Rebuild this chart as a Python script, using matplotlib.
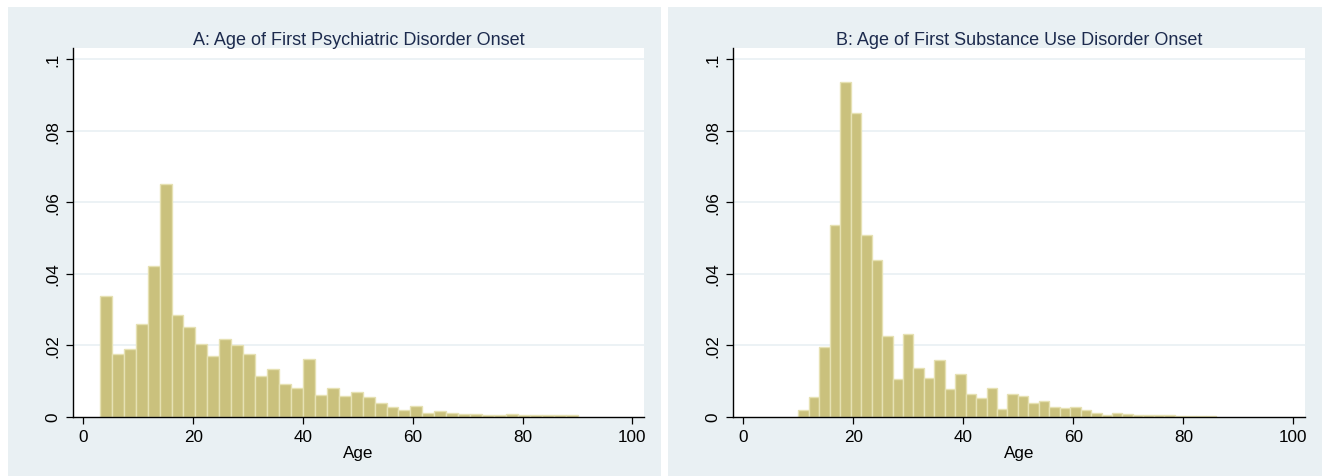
"""Age-of-onset histograms (density) for first psychiatric and first
substance use disorder, Stata s2color look."""
import numpy as np
import matplotlib
matplotlib.use("Agg")
import matplotlib.pyplot as plt
from matplotlib.patches import Rectangle

plt.rcParams["font.family"] = ["Liberation Sans", "DejaVu Sans"]

# density per bin, 40 bins each
psych_range = (3, 90)
psych_density = [
    0.0338, 0.0176, 0.0189, 0.0259, 0.0420, 0.0650, 0.0285, 0.0250, 0.0204, 0.0169,
    0.0218, 0.0200, 0.0175, 0.0114, 0.0134, 0.0091, 0.0081, 0.0162, 0.0060, 0.0080,
    0.0057, 0.0068, 0.0055, 0.0039, 0.0026, 0.0018, 0.0029, 0.0011, 0.0016, 0.0009,
    0.0007, 0.0006, 0.0004, 0.0004, 0.0007, 0.0005, 0.0003, 0.0003, 0.0003, 0.0004,
]
sud_range = (10, 86)
sud_density = [
    0.0017, 0.0054, 0.0194, 0.0536, 0.0937, 0.0848, 0.0509, 0.0437, 0.0225, 0.0105,
    0.0230, 0.0137, 0.0107, 0.0157, 0.0076, 0.0119, 0.0064, 0.0051, 0.0079, 0.0021,
    0.0064, 0.0056, 0.0038, 0.0044, 0.0026, 0.0023, 0.0026, 0.0019, 0.0011, 0.0004,
    0.0009, 0.0006, 0.0005, 0.0004, 0.0003, 0.0003, 0.0002, 0.0001, 0.0001, 0.0001,
]
titles = ["A: Age of First Psychiatric Disorder Onset",
          "B: Age of First Substance Use Disorder Onset"]
x_ticks = [0, 20, 40, 60, 80, 100]
y_ticks = [0, 0.02, 0.04, 0.06, 0.08, 0.1]
y_labels = ["0", ".02", ".04", ".06", ".08", ".1"]

W, H = 1322, 477
BG = "#e9f0f3"
FILL = "#cac17d"
EDGE = "#e6e1b3"
TITLE_C = "#1c2a4d"

fig = plt.figure(figsize=(W / 100, H / 100), dpi=100, facecolor="white")


def px_box(x0, y0, x1, y1):
    # pixel box (top-left origin) -> figure fraction [l, b, w, h]
    return [x0 / W, (H - y1) / H, (x1 - x0) / W, (y1 - y0) / H]


panels = [(8, 661, 73, 644), (668, 1322, 733, 1305)]
data = [(psych_range, psych_density), (sud_range, sud_density)]

for (px0, px1, ax0, ax1), (rng, dens), title in zip(panels, data, titles):
    l, b, w, h = px_box(px0, 8, px1, 477)
    fig.patches.append(Rectangle((l, b), w, h, transform=fig.transFigure,
                                 facecolor=BG, edgecolor="none", zorder=-5))
    ax = fig.add_axes(px_box(ax0, 49, ax1, 417.5))
    ax.set_zorder(2)
    ax.set_facecolor("white")

    dens = np.asarray(dens)
    width = (rng[1] - rng[0]) / len(dens)
    left = rng[0] + width * np.arange(len(dens))
    ax.bar(left, dens, width=width, align="edge", color=FILL,
           edgecolor=EDGE, linewidth=1.0, zorder=3)

    ax.set_xlim(-1.9, 102.1)
    ax.set_ylim(0, 0.1031)
    ax.set_xticks(x_ticks)
    ax.set_yticks(y_ticks)
    ax.set_yticklabels(y_labels, rotation=90, va="center")
    ax.tick_params(axis="both", direction="out", length=5, width=0.9,
                   labelsize=12.3, color="black", pad=4)
    for t in y_ticks[1:]:
        ax.axhline(t, color=BG, linewidth=1.2, zorder=1)
    for s in ("top", "right"):
        ax.spines[s].set_visible(False)
    for s in ("left", "bottom"):
        ax.spines[s].set_linewidth(1.0)
        ax.spines[s].set_zorder(4)

    ax.set_xlabel("Age", fontsize=12.3, labelpad=1)
    ax.set_title(title, fontsize=13, color=TITLE_C, pad=3)

fig.savefig("out.png", dpi=100, facecolor="white")
